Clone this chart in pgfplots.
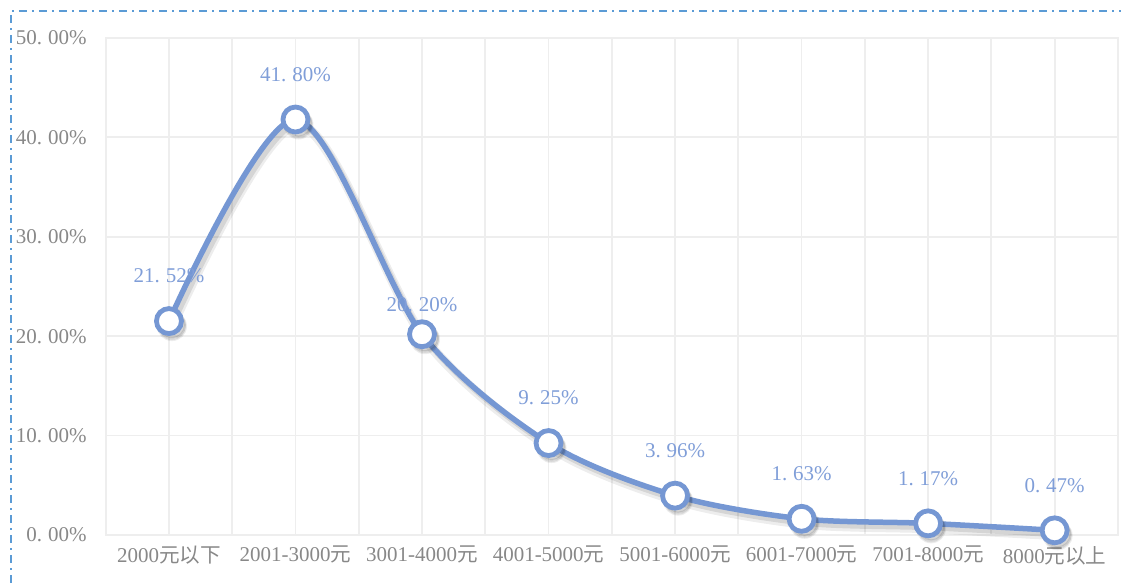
\documentclass[border=0pt]{standalone}
\usepackage{pgfplots}
\pgfplotsset{compat=1.18}
\usepackage{fontspec}
\setmainfont{Liberation Serif}
\newfontfamily\cjk{Noto Sans CJK SC}[Scale=0.98]
\definecolor{lineblue}{RGB}{117,151,211}
\definecolor{labblue}{RGB}{128,158,216}
\definecolor{gridgray}{RGB}{238,238,238}
\definecolor{txtgray}{RGB}{136,136,136}
\definecolor{borderblue}{RGB}{91,155,213}
\protected\def\p{.\kern0.28em\relax}
\protected\def\low#1{\raisebox{-15bp}[\height][\depth]{#1}}
\begin{document}
\begin{tikzpicture}
\path[use as bounding box] (0,0) rectangle (1121bp,583bp);
\draw[borderblue, line width=2bp, dash pattern=on 8bp off 5bp on 2bp off 5bp] (11bp,0) -- (11bp,572bp) -- (1125bp,572bp);
\begin{axis}[
  at={(105.7bp,48bp)}, anchor=south west,
  scale only axis, width=1012.3bp, height=497bp,
  xmin=-0.5, xmax=7.5, ymin=0, ymax=50,
  xtick={0,...,7}, minor xtick={-0.5,0.5,...,7.5},
  xticklabels={2000{\cjk 元以下},2001-3000{\cjk 元},3001-4000{\cjk 元},4001-5000{\cjk 元},5001-6000{\cjk 元},6001-7000{\cjk 元},7001-8000{\cjk 元},8000{\cjk 元以上}},
  ytick={0,10,...,50},
  yticklabels={0\p00\%,10\p00\%,20\p00\%,30\p00\%,40\p00\%,50\p00\%},
  grid=both,
  major grid style={gridgray, line width=1.8bp},
  minor grid style={gridgray, line width=1.8bp},
  axis line style={gridgray, line width=1.8bp},
  major tick length=0pt, minor tick length=0pt,
  tick style={draw=none},
  ticklabel style={font=\fontsize{21bp}{25bp}\selectfont, text=txtgray},
  yticklabel style={anchor=east, inner sep=0pt, xshift=-19bp},
  xticklabel style={anchor=north, inner sep=0pt, yshift=-11bp},
  clip=false,
]
\addplot[black, opacity=0.07, line width=10bp, smooth, xshift=3bp, yshift=-5bp,
  mark=*, mark size=14bp, mark options={fill=black, draw=black, line width=2bp}]
  coordinates {(0,21.52) (1,41.80) (2,20.20) (3,9.25) (4,3.96) (5,1.63) (6,1.17) (7,0.47)};
\addplot[black, opacity=0.10, line width=6bp, smooth, xshift=3bp, yshift=-4bp,
  mark=*, mark size=13bp, mark options={fill=black, draw=black, line width=2bp}]
  coordinates {(0,21.52) (1,41.80) (2,20.20) (3,9.25) (4,3.96) (5,1.63) (6,1.17) (7,0.47)};
\addplot[lineblue, line width=5.5bp, smooth,
  mark=*, mark size=12.5bp, mark options={fill=white, draw=lineblue, line width=4.8bp},
  nodes near coords, point meta=explicit symbolic,
  every node near coord/.append style={anchor=center, yshift=45bp, text=labblue, inner sep=0pt, font=\fontsize{21bp}{25bp}\selectfont}]
  coordinates {(0,21.52) [21\p52\%] (1,41.80) [41\p80\%] (2,20.20) [\low{20\p20\%}] (3,9.25) [9\p25\%] (4,3.96) [3\p96\%] (5,1.63) [1\p63\%] (6,1.17) [1\p17\%] (7,0.47) [0\p47\%]};
\end{axis}
\end{tikzpicture}
\end{document}
